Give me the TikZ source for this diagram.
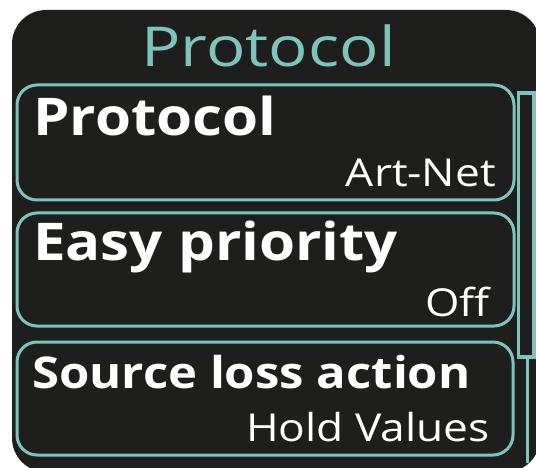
\documentclass[tikz,border=0pt]{standalone}
\usepackage{fontspec}
\newfontfamily\titlefont[FakeStretch=1.19]{Open Sans}
\newfontfamily\labelfont[FakeStretch=1.12]{Open Sans}
\newfontfamily\valfont[FakeStretch=1.15]{Open Sans}
\definecolor{panelbg}{HTML}{1E1E1C}
\definecolor{tealline}{HTML}{7EC4BD}
\begin{document}
\begin{tikzpicture}[x=1pt,y=-1pt,
  itembox/.style={draw=tealline, line width=3pt, rounded corners=20pt},
  lbl/.style={anchor=base west, inner sep=0pt, text=white, font=\labelfont\bfseries\fontsize{52}{60}\selectfont},
  lblsmall/.style={lbl, font=\labelfont\bfseries\fontsize{43.8}{52}\selectfont},
  val/.style={anchor=base east, inner sep=0pt, text=white, font=\valfont\fontsize{38.5}{44}\selectfont}]
\useasboundingbox (0,0) rectangle (536,468);
\fill[white] (0,0) rectangle (536,468);
% panel
\fill[panelbg, rounded corners=34pt] (12,10) rectangle (540,472);
% title
\node[anchor=base, inner sep=0pt, text=tealline, font=\titlefont\fontsize{55}{60}\selectfont] (title) at (268.5,67) {Protocol};
% item boxes
\draw[itembox] (17,85) rectangle (514,200);
\draw[itembox] (17,213) rectangle (514,326);
\draw[itembox] (17,342) rectangle (513,455);
% scrollbar
\draw[tealline, line width=3.5pt] (518.5,93) rectangle (534,357);
\draw[tealline, line width=3pt] (527,357) -- (527,463);
% labels
\node[lbl] (l1) at (33,136) {Protocol};
\node[val] (v1) at (496,186) {Art-Net};
\node[lbl] (l2) at (33,261) {Easy priority};
\node[val] (v2) at (490,316) {Off};
\node[lblsmall] (l3) at (32,388) {Source loss action};
\node[val] (v3) at (490,441) {Hold Values};
\end{tikzpicture}
\end{document}
